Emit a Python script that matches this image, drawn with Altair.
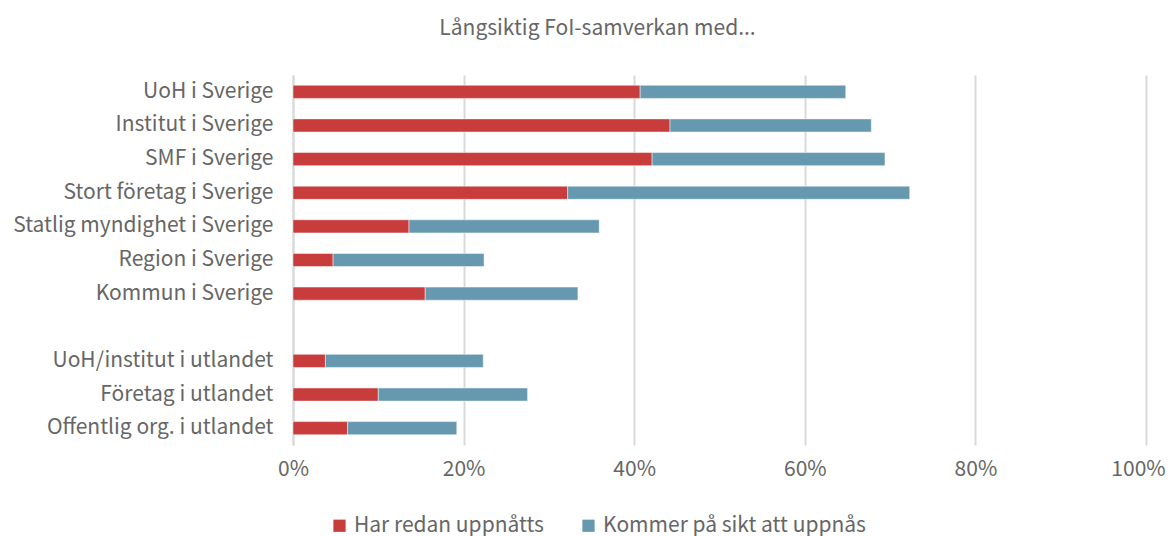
import altair as alt
import pandas as pd

categories = [
    "UoH i Sverige",
    "Institut i Sverige",
    "SMF i Sverige",
    "Stort företag i Sverige",
    "Statlig myndighet i Sverige",
    "Region i Sverige",
    "Kommun i Sverige",
    "UoH/institut i utlandet",
    "Företag i utlandet",
    "Offentlig org. i utlandet",
]
already = [0.407, 0.442, 0.421, 0.322, 0.136, 0.047, 0.155, 0.038, 0.100, 0.064]
future = [0.241, 0.236, 0.273, 0.401, 0.223, 0.177, 0.179, 0.185, 0.175, 0.128]
series = ["Har redan uppnåtts", "Kommer på sikt att uppnås"]
colors = ["#C83C3C", "#6699B0"]

rows = []
for c, a, f in zip(categories, already, future):
    rows.append({"cat": c, "serie": series[0], "val": a, "ord": 0})
    rows.append({"cat": c, "serie": series[1], "val": f, "ord": 1})
df = pd.DataFrame(rows)

domain = categories[:7] + [" "] + categories[7:]
FONT = "Noto Sans CJK JP"
GREY = "#666666"
FS = 21

chart = (
    alt.Chart(df)
    .mark_bar(stroke="white", strokeWidth=0.8, strokeOpacity=0.6)
    .encode(
        y=alt.Y(
            "cat:N",
            scale=alt.Scale(domain=domain, paddingInner=0.61, paddingOuter=0.305),
            axis=alt.Axis(
                title=None,
                ticks=False,
                domain=True,
                domainColor="#D9D9D9",
                domainWidth=2,
                labelPadding=20,
                labelFontSize=FS,
                labelColor=GREY,
                labelFont=FONT,
                labelLimit=400,
            ),
        ),
        x=alt.X(
            "val:Q",
            stack="zero",
            scale=alt.Scale(domain=[0, 1], nice=False),
            axis=alt.Axis(
                title=None,
                format=".0%",
                values=[0, 0.2, 0.4, 0.6, 0.8, 1.0],
                ticks=False,
                domain=False,
                grid=True,
                gridColor="#D9D9D9",
                gridWidth=2,
                labelPadding=13,
                labelFontSize=FS,
                labelOffset={"condition": {"test": "datum.value >= 1", "value": -8}, "value": 0},
                labelColor=GREY,
                labelFont=FONT,
                labelFlush=False,
            ),
        ),
        color=alt.Color(
            "serie:N",
            scale=alt.Scale(domain=series, range=colors),
            legend=alt.Legend(
                title=None,
                orient="none",
                direction="horizontal",
                legendX=36,
                legendY=440,
                symbolType="square",
                symbolSize=150,
                symbolStrokeWidth=0,
                labelFontSize=FS,
                labelColor=GREY,
                labelFont=FONT,
                labelOffset=4,
                columnPadding=34,
                labelLimit=400,
            ),
        ),
        order=alt.Order("ord:Q"),
    )
    .properties(
        width=853,
        height=370,
        autosize=alt.AutoSizeParams(type="none"),
        padding={"left": 285, "top": 67, "right": 20, "bottom": 100},
        title=alt.TitleParams(
            "Långsiktig FoI-samverkan med...",
            font=FONT,
            fontSize=FS,
            fontWeight="normal",
            color=GREY,
            anchor="middle",
            dx=-122,
            offset=36,
        ),
    )
    .configure_view(stroke=None)
)

chart.save("out.html", embed_options={"renderer": "svg", "actions": False})
